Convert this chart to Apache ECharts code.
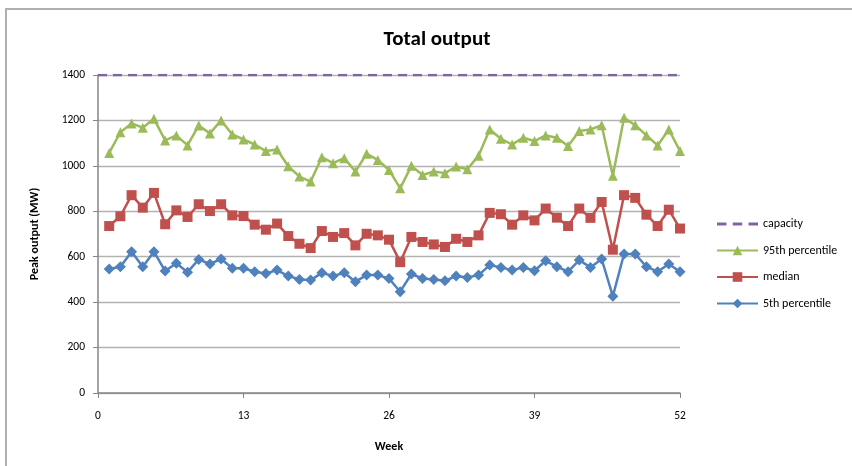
<!DOCTYPE html>
<html>
<head>
<meta charset="utf-8">
<script src="https://cdn.jsdelivr.net/npm/echarts@6/dist/echarts.min.js"></script>
<style>html,body{margin:0;padding:0;background:#fff}#c{width:852px;height:466px}</style>
</head>
<body>
<div id="c"></div>
<script>
var weeks = [1,2,3,4,5,6,7,8,9,10,11,12,13,14,15,16,17,18,19,20,21,22,23,24,25,26,27,28,29,30,31,32,33,34,35,36,37,38,39,40,41,42,43,44,45,46,47,48,49,50,51,52];
var p95 = [1057,1148,1187,1168,1207,1112,1134,1090,1178,1143,1200,1138,1116,1094,1065,1072,998,953,931,1038,1012,1034,975,1053,1026,982,901,1000,960,975,968,997,985,1045,1160,1119,1094,1124,1109,1134,1124,1087,1153,1160,1179,956,1212,1179,1134,1090,1160,1065];
var median = [735,778,871,816,881,743,804,775,831,801,831,782,779,741,719,746,691,657,638,713,687,704,650,701,694,675,576,687,665,654,643,679,665,694,793,787,741,782,760,812,772,735,812,771,841,631,871,859,785,735,807,724];
var p5 = [546,556,622,556,622,537,571,532,588,568,590,549,549,534,526,541,515,500,497,529,515,529,490,519,519,504,446,524,504,500,494,515,509,519,563,553,541,553,538,582,556,534,585,553,590,426,612,612,556,534,568,534];
var capWeeks = [0,52];
var capValues = [1400,1400];
var xTicks = [0,13,26,39,52];
var yTicks = [0,200,400,600,800,1000,1200,1400];

function pairs(xs, ys){ return xs.map(function(x,i){ return [x, ys[i]]; }); }

var font = 'Calibri, Carlito, "Open Sans", "Noto Sans", sans-serif';
var dashIcon = 'path://M0,0h9v3h-9zM15,0h9v3h-9zM30,0h9v3h-9z';
var chart = echarts.init(document.getElementById('c'), null, {renderer:'canvas'});
chart.setOption({
  animation:false,
  backgroundColor:'#fff',
  textStyle:{fontFamily:font},
  title:{text:'Total output', left:432, top:24, textAlign:'center',
    textStyle:{fontSize:21, fontWeight:'bold', color:'#000', fontFamily:font}},
  graphic:[{type:'rect', shape:{x:6,y:9,width:900,height:500},
    style:{fill:null, stroke:'#b0b0b0', lineWidth:2}, silent:true, z:-1}],
  grid:{left:98, right:172, top:75, bottom:73},
  legend:{orient:'vertical', left:711, top:213, itemWidth:41, itemHeight:12, itemGap:14.5,
    data:[
      {name:'capacity', icon:dashIcon, itemStyle:{color:'#8064A2'}},
      '95th percentile','median','5th percentile'],
    textStyle:{fontSize:12, color:'#000', fontFamily:font}},
  xAxis:{type:'value', min:xTicks[0], max:xTicks[xTicks.length-1], interval:13,
    name:'Week', nameLocation:'middle', nameGap:48,
    nameTextStyle:{fontSize:12, fontWeight:'bold', color:'#000'},
    axisLine:{show:true, lineStyle:{color:'#868686', width:1.5}},
    axisTick:{show:true, length:5, lineStyle:{color:'#868686'}},
    axisLabel:{fontSize:11.5, color:'#000', margin:17, formatter:function(v){return String(v);}},
    splitLine:{show:false}},
  yAxis:{type:'value', min:yTicks[0], max:yTicks[yTicks.length-1], interval:200,
    name:'Peak output (MW)', nameLocation:'middle', nameGap:57,
    nameTextStyle:{fontSize:12, fontWeight:'bold', color:'#000'},
    axisLine:{show:true, lineStyle:{color:'#868686', width:1.5}},
    axisTick:{show:true, length:5, lineStyle:{color:'#868686'}},
    axisLabel:{fontSize:11.5, color:'#000', margin:13, formatter:function(v){return String(v);}},
    splitLine:{show:true, lineStyle:{color:'#b3b3b3', width:1.3}}},
  series:[
    {name:'capacity', type:'line', data:pairs(capWeeks, capValues), symbol:'none',
      lineStyle:{color:'#8064A2', width:2.5, type:[9,6]}, itemStyle:{color:'#8064A2'}, z:2},
    {name:'95th percentile', type:'line', data:pairs(weeks, p95), symbol:'triangle', symbolSize:10,
      lineStyle:{color:'#9BBB59', width:2.5}, itemStyle:{color:'#9BBB59'}},
    {name:'median', type:'line', data:pairs(weeks, median), symbol:'rect', symbolSize:10,
      lineStyle:{color:'#C0504D', width:2.5}, itemStyle:{color:'#C0504D'}},
    {name:'5th percentile', type:'line', data:pairs(weeks, p5), symbol:'diamond', symbolSize:11,
      lineStyle:{color:'#4F81BD', width:2.5}, itemStyle:{color:'#4F81BD'}}
  ]
});
</script>
</body>
</html>
